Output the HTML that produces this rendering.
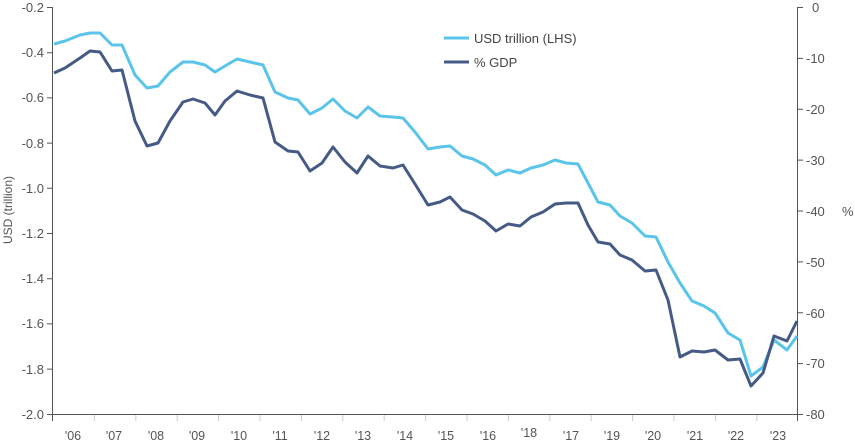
<!DOCTYPE html>
<html><head><meta charset="utf-8"><style>
html,body{margin:0;padding:0;background:#fff}
svg{display:block;font-family:"Liberation Sans",sans-serif}
</style></head><body>
<svg width="855" height="446" viewBox="0 0 855 446" xmlns="http://www.w3.org/2000/svg">
<g stroke="#555" stroke-width="1" fill="none">
<line x1="52.5" y1="7" x2="52.5" y2="421"/>
<line x1="797.5" y1="7" x2="797.5" y2="421"/>
<line x1="47" y1="414.5" x2="803" y2="414.5"/>
<path d="M47 7.5H52 M47 52.7H52 M47 97.9H52 M47 143.1H52 M47 188.3H52 M47 233.5H52 M47 278.7H52 M47 323.9H52 M47 369.1H52"/>
<path d="M798 7.5H803 M798 58.4H803 M798 109.3H803 M798 160.1H803 M798 211H803 M798 261.9H803 M798 312.8H803 M798 363.6H803"/>
</g>
<g stroke="#ccc" stroke-width="1">
<path d="M94.4 415V421 M135.8 415V421 M177.2 415V421 M218.6 415V421 M260 415V421 M301.4 415V421 M342.8 415V421 M384.2 415V421 M425.6 415V421 M467 415V421 M508.4 415V421 M549.8 415V421 M591.2 415V421 M632.6 415V421 M674 415V421 M715.4 415V421 M756.8 415V421"/>
</g>
<g font-size="13" fill="#555" text-anchor="end">
<text x="44" y="12">-0.2</text><text x="44" y="57">-0.4</text><text x="44" y="102">-0.6</text>
<text x="44" y="148">-0.8</text><text x="44" y="193">-1.0</text><text x="44" y="238">-1.2</text>
<text x="44" y="283">-1.4</text><text x="44" y="328">-1.6</text><text x="44" y="374">-1.8</text>
<text x="44" y="419">-2.0</text>
</g>
<g font-size="13" fill="#555" text-anchor="start">
<text x="812" y="12">0</text><text x="806" y="63">-10</text><text x="806" y="114">-20</text>
<text x="806" y="165">-30</text><text x="806" y="216">-40</text><text x="806" y="267">-50</text>
<text x="806" y="318">-60</text><text x="806" y="368">-70</text><text x="806" y="419">-80</text>
<text x="842" y="216">%</text>
</g>
<text font-size="12" fill="#555" transform="translate(12,210) rotate(-90)" text-anchor="middle">USD (trillion)</text>
<g font-size="12.5" fill="#555" text-anchor="middle">
<text x="73" y="440">'06</text><text x="114" y="440">'07</text><text x="156" y="440">'08</text>
<text x="197" y="440">'09</text><text x="239" y="440">'10</text><text x="280" y="440">'11</text>
<text x="322" y="440">'12</text><text x="363" y="440">'13</text><text x="405" y="440">'14</text>
<text x="446" y="440">'15</text><text x="488" y="440">'16</text><text x="529" y="437">'18</text>
<text x="571" y="440">'17</text><text x="612" y="440">'19</text><text x="653" y="440">'20</text>
<text x="695" y="440">'21</text><text x="736" y="440">'22</text><text x="778" y="440">'23</text>
</g>
<polyline fill="none" stroke="#5bc4ea" stroke-width="3" stroke-linejoin="round" points="54,44 65,41 80,35 90,33 100,33 112,45 122,45 135,75 147,88 158,86 170,72 183,62 193,62 205,65 215,72 225,66 237,59 250,62 263,65 275,92 288,98 298,100 310,114 322,108 333,99 345,111 357,118 368,107 380,116 393,117 403,118 415,132 428,149 440,147 450,146 462,156 473,159 485,165 496,175 508,170 520,173 531,168 543,165 555,160 566,163 578,164 588,183 598,202 610,205 620,216 632,223 645,236 656,237 668,262 680,283 692,301 704,306 715,313 728,333 740,340 751,376 763,367 774,340 787,350 797,336"/>
<polyline fill="none" stroke="#455b86" stroke-width="3" stroke-linejoin="round" points="54,73 65,68 80,58 90,51 100,52 112,71 122,70 135,121 147,146 158,143 170,121 183,102 193,99 205,103 215,115 225,101 237,91 250,95 263,98 275,142 288,151 298,152 310,171 322,163 333,147 345,162 357,173 368,156 380,166 393,168 403,165 415,184 428,205 440,202 450,197 462,210 473,214 485,221 496,231 508,224 520,226 531,217 543,212 555,204 566,203 578,203 588,225 598,242 610,244 620,255 632,260 645,271 656,270 668,300 680,357 692,351 704,352 715,350 728,360 740,359 751,386 763,373 774,336 787,341 797,321"/>
<line x1="444" y1="38" x2="469" y2="38" stroke="#5bc4ea" stroke-width="3"/>
<line x1="444" y1="62" x2="469" y2="62" stroke="#455b86" stroke-width="3"/>
<text x="474" y="43" font-size="13" fill="#444">USD trillion (LHS)</text>
<text x="474" y="67" font-size="13" fill="#444">% GDP</text>
</svg>
</body></html>
